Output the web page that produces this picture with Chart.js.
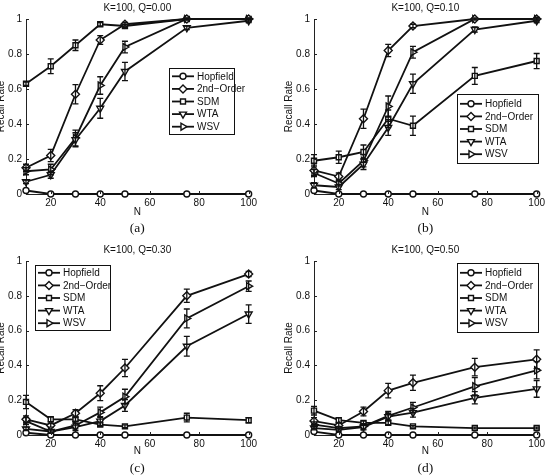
<!DOCTYPE html>
<html>
<head>
<meta charset="utf-8">
<script src="https://cdn.jsdelivr.net/npm/chart.js@4/dist/chart.umd.min.js"></script>
<style>
html,body{margin:0;padding:0;background:#fff;}
#wrap{position:relative;width:548px;height:476px;overflow:hidden;background:#fff;}
.cell{position:absolute;width:274px;height:238px;overflow:hidden;}
.cell canvas{position:absolute;top:0;}
</style>
</head>
<body>
<div id="wrap">
  <div class="cell" style="left:0;top:0"><canvas id="cA" width="274" height="238" style="left:-14px"></canvas></div>
  <div class="cell" style="left:274px;top:0"><canvas id="cB" width="274" height="238" style="left:0"></canvas></div>
  <div class="cell" style="left:0;top:238px"><canvas id="cC" width="274" height="238" style="left:-14px"></canvas></div>
  <div class="cell" style="left:274px;top:238px"><canvas id="cD" width="274" height="238" style="left:0"></canvas></div>
</div>
<script>
// ---------- data ----------
const N_VALUES = [10, 20, 30, 40, 50, 75, 100];
const X_TICKS = [20, 40, 60, 80, 100];
const Y_TICKS = [0, 0.2, 0.4, 0.6, 0.8, 1];
const SERIES_NAMES = ['Hopfield', '2nd\u2212Order', 'SDM', 'WTA', 'WSV'];
const X_TITLE = 'N';
const Y_TITLE = 'Recall Rate';
const TITLES = ['K=100, Q=0.00', 'K=100, Q=0.10', 'K=100, Q=0.30', 'K=100, Q=0.50'];
const CAPTIONS = ['(a)', '(b)', '(c)', '(d)'];

// Q = 0.00
const hopA    = [0.02, 0, 0, 0, 0, 0, 0];
const secondA = [0.15, 0.22, 0.57, 0.88, 0.97, 1.0, 1.0];
const sdmA    = [0.63, 0.73, 0.85, 0.97, 0.96, 1.0, 1.0];
const wtaA    = [0.07, 0.11, 0.31, 0.49, 0.70, 0.95, 0.99];
const wsvA    = [0.13, 0.14, 0.32, 0.62, 0.84, 1.0, 1.0];
const hopErrA    = [0, 0, 0, 0, 0, 0, 0];
const secondErrA = [0.02, 0.035, 0.055, 0.025, 0.01, 0.005, 0.005];
const sdmErrA    = [0.01, 0.042, 0.03, 0.01, 0.01, 0.005, 0.005];
const wtaErrA    = [0.01, 0.02, 0.04, 0.057, 0.052, 0.01, 0.01];
const wsvErrA    = [0.02, 0.03, 0.045, 0.05, 0.033, 0.005, 0.005];

// Q = 0.10
const hopB    = [0.02, 0, 0, 0, 0, 0, 0];
const secondB = [0.135, 0.10, 0.43, 0.82, 0.96, 1.0, 1.0];
const sdmB    = [0.19, 0.21, 0.24, 0.43, 0.39, 0.675, 0.76];
const wtaB    = [0.05, 0.04, 0.17, 0.38, 0.63, 0.94, 0.99];
const wsvB    = [0.12, 0.06, 0.19, 0.50, 0.81, 1.0, 1.0];
const hopErrB    = [0, 0, 0, 0, 0, 0, 0];
const secondErrB = [0.03, 0.02, 0.055, 0.035, 0.01, 0.005, 0.005];
const sdmErrB    = [0.035, 0.035, 0.04, 0.05, 0.055, 0.048, 0.043];
const wtaErrB    = [0.015, 0.015, 0.03, 0.045, 0.055, 0.015, 0.01];
const wsvErrB    = [0.02, 0.015, 0.035, 0.06, 0.034, 0.005, 0.01];

// Q = 0.30
const hopC    = [0.013, 0, 0, 0, 0, 0, 0];
const secondC = [0.09, 0.055, 0.125, 0.24, 0.385, 0.80, 0.925];
const sdmC    = [0.19, 0.09, 0.09, 0.06, 0.05, 0.10, 0.085];
const wtaC    = [0.035, 0.02, 0.045, 0.08, 0.17, 0.51, 0.695];
const wsvC    = [0.08, 0.02, 0.055, 0.13, 0.22, 0.67, 0.855];
const hopErrC    = [0, 0, 0, 0, 0, 0, 0];
const secondErrC = [0.02, 0.01, 0.02, 0.043, 0.05, 0.038, 0.015];
const sdmErrC    = [0.038, 0.015, 0.01, 0.01, 0.008, 0.025, 0.015];
const wtaErrC    = [0.01, 0.01, 0.02, 0.025, 0.034, 0.057, 0.053];
const wsvErrC    = [0.02, 0.01, 0.02, 0.03, 0.043, 0.054, 0.03];

// Q = 0.50
const hopD    = [0.02, 0, 0, 0, 0, 0, 0];
const secondD = [0.08, 0.055, 0.135, 0.255, 0.30, 0.39, 0.435];
const sdmD    = [0.14, 0.085, 0.07, 0.07, 0.05, 0.04, 0.04];
const wtaD    = [0.04, 0.03, 0.045, 0.105, 0.128, 0.214, 0.265];
const wsvD    = [0.06, 0.04, 0.05, 0.11, 0.158, 0.28, 0.372];
const hopErrD    = [0, 0, 0, 0, 0, 0, 0];
const secondErrD = [0.02, 0.015, 0.025, 0.042, 0.044, 0.05, 0.054];
const sdmErrD    = [0.025, 0.015, 0.01, 0.01, 0.005, 0.005, 0.005];
const wtaErrD    = [0.01, 0.01, 0.015, 0.02, 0.025, 0.035, 0.048];
const wsvErrD    = [0.015, 0.01, 0.015, 0.025, 0.03, 0.05, 0.05];

// ---------- style ----------
const INK = '#111';
const SANS = '"Liberation Sans", Arial, Helvetica, sans-serif';
const SERIF = '"Liberation Serif", "Times New Roman", serif';
const MARKERS = [
  {style: 'circle',   rot: 0,   r: 3},
  {style: 'rectRot',  rot: 0,   r: 4},
  {style: 'rect',     rot: 0,   r: 3.5},
  {style: 'triangle', rot: 180, r: 4},
  {style: 'triangle', rot: 90,  r: 4}
];
const ROWS = [
  {padTop: 19, padBottom: 20, xH: 24, titleY: 8,    capY: 228},
  {padTop: 23, padBottom: 19, xH: 22, titleY: 12.5, capY: 230}
];

const PANELS = [
  {id: 'cA', row: 0, title: TITLES[0], caption: CAPTIONS[0],
   values: [hopA, secondA, sdmA, wtaA, wsvA], errors: [hopErrA, secondErrA, sdmErrA, wtaErrA, wsvErrA],
   legend: {x: 183, y: 68, w: 66, h: 67}},
  {id: 'cB', row: 0, title: TITLES[1], caption: CAPTIONS[1],
   values: [hopB, secondB, sdmB, wtaB, wsvB], errors: [hopErrB, secondErrB, sdmErrB, wtaErrB, wsvErrB],
   legend: {x: 183, y: 94, w: 82, h: 70}},
  {id: 'cC', row: 1, title: TITLES[2], caption: CAPTIONS[2],
   values: [hopC, secondC, sdmC, wtaC, wsvC], errors: [hopErrC, secondErrC, sdmErrC, wtaErrC, wsvErrC],
   legend: {x: 49, y: 27, w: 76, h: 66}},
  {id: 'cD', row: 1, title: TITLES[3], caption: CAPTIONS[3],
   values: [hopD, secondD, sdmD, wtaD, wsvD], errors: [hopErrD, secondErrD, sdmErrD, wtaErrD, wsvErrD],
   legend: {x: 183, y: 25, w: 82, h: 70}}
];

function drawMarker(ctx, m, x, y) {
  ctx.save();
  ctx.fillStyle = '#fff';
  ctx.strokeStyle = INK;
  ctx.lineWidth = 1.4;
  Chart.helpers.drawPoint(ctx, {pointStyle: m.style, rotation: m.rot, radius: m.r, borderWidth: 1.4}, x, y);
  ctx.restore();
}

const decorPlugin = {
  id: 'decor',
  afterDatasetsDraw(chart) {
    const p = chart.options.plugins.decor.panel;
    const ctx = chart.ctx;
    const xs = chart.scales.x, ys = chart.scales.y;
    ctx.save();
    ctx.strokeStyle = INK;
    ctx.lineWidth = 1.3;
    p.values.forEach((vals, i) => {
      const errs = p.errors[i];
      vals.forEach((v, j) => {
        const e = errs[j];
        if (!e) return;
        const x = xs.getPixelForValue(N_VALUES[j]);
        const y1 = ys.getPixelForValue(v + e);
        const y2 = ys.getPixelForValue(v - e);
        ctx.beginPath();
        ctx.moveTo(x, y1); ctx.lineTo(x, y2);
        ctx.moveTo(x - 3, y1); ctx.lineTo(x + 3, y1);
        ctx.moveTo(x - 3, y2); ctx.lineTo(x + 3, y2);
        ctx.stroke();
      });
    });
    ctx.restore();
  },
  afterDraw(chart) {
    const p = chart.options.plugins.decor.panel;
    const row = ROWS[p.row];
    const ctx = chart.ctx;
    const xs = chart.scales.x, ys = chart.scales.y;
    const ca = chart.chartArea;
    ctx.save();
    // inward tick marks
    ctx.strokeStyle = '#222';
    ctx.lineWidth = 1;
    ctx.beginPath();
    X_TICKS.forEach(t => {
      const x = Math.round(xs.getPixelForValue(t)) + 0.5;
      ctx.moveTo(x, ca.bottom); ctx.lineTo(x, ca.bottom - 3);
    });
    Y_TICKS.forEach(t => {
      const y = Math.round(ys.getPixelForValue(t)) + 0.5;
      ctx.moveTo(ca.left, y); ctx.lineTo(ca.left + 3, y);
    });
    ctx.stroke();
    // title + caption
    const cx = (ca.left + ca.right) / 2;
    ctx.fillStyle = INK;
    ctx.textAlign = 'center';
    ctx.textBaseline = 'middle';
    ctx.font = '10px ' + SANS;
    ctx.fillText(p.title, cx, row.titleY);
    ctx.font = '13.5px ' + SERIF;
    ctx.fillText(p.caption, cx, row.capY);
    // legend
    const lg = p.legend;
    ctx.fillStyle = '#fff';
    ctx.fillRect(lg.x, lg.y, lg.w, lg.h);
    ctx.strokeStyle = INK;
    ctx.lineWidth = 1;
    ctx.strokeRect(lg.x + 0.5, lg.y + 0.5, lg.w - 1, lg.h - 1);
    const rowH = 12.6;
    const y0 = lg.y + (lg.h - 4 * rowH) / 2;
    ctx.font = '10px ' + SANS;
    ctx.textAlign = 'left';
    chart.data.datasets.forEach((ds, i) => {
      const y = y0 + i * rowH;
      ctx.strokeStyle = INK;
      ctx.lineWidth = 1.8;
      ctx.beginPath();
      ctx.moveTo(lg.x + 3, y); ctx.lineTo(lg.x + 25, y);
      ctx.stroke();
      drawMarker(ctx, MARKERS[i], lg.x + 14, y);
      ctx.fillStyle = INK;
      ctx.fillText(ds.label, lg.x + 28, y + 0.5);
    });
    ctx.restore();
  }
};

PANELS.forEach(p => {
  const row = ROWS[p.row];
  const datasets = p.values.map((vals, i) => ({
    label: SERIES_NAMES[i],
    data: vals.map((v, j) => ({x: N_VALUES[j], y: v})),
    borderColor: INK,
    borderWidth: 1.8,
    backgroundColor: '#fff',
    pointStyle: MARKERS[i].style,
    pointRotation: MARKERS[i].rot,
    pointRadius: MARKERS[i].r,
    pointBorderWidth: 1.4,
    pointBorderColor: INK,
    pointBackgroundColor: '#fff',
    tension: 0,
    clip: false
  }));
  new Chart(document.getElementById(p.id), {
    type: 'line',
    data: {datasets},
    plugins: [decorPlugin],
    options: {
      responsive: false,
      animation: false,
      events: [],
      layout: {padding: {top: row.padTop, right: 10, bottom: row.padBottom, left: 0}},
      plugins: {
        legend: {display: false},
        tooltip: {enabled: false},
        title: {display: false},
        decor: {panel: p}
      },
      scales: {
        x: {
          type: 'linear', min: 10, max: 100,
          afterBuildTicks: s => { s.ticks = X_TICKS.map(v => ({value: v})); },
          afterFit: s => { s.height = row.xH; },
          grid: {display: false, drawTicks: false},
          border: {display: true, color: '#222', width: 1},
          ticks: {font: {family: SANS, size: 10}, color: INK, padding: 3, maxRotation: 0, autoSkip: false,
                  callback: v => String(v)},
          title: {display: true, text: X_TITLE, font: {family: SANS, size: 10}, color: INK, padding: {top: 0, bottom: 0}}
        },
        y: {
          type: 'linear', min: 0, max: 1,
          afterBuildTicks: s => { s.ticks = Y_TICKS.map(v => ({value: v})); },
          afterFit: s => { s.width = 40; },
          grid: {display: false, drawTicks: false},
          border: {display: true, color: '#222', width: 1},
          ticks: {font: {family: SANS, size: 10}, color: INK, padding: 4, autoSkip: false,
                  callback: v => String(v)},
          title: {display: true, text: Y_TITLE, font: {family: SANS, size: 10}, color: INK, padding: {top: 9, bottom: 0}}
        }
      }
    }
  });
});
</script>
</body>
</html>
